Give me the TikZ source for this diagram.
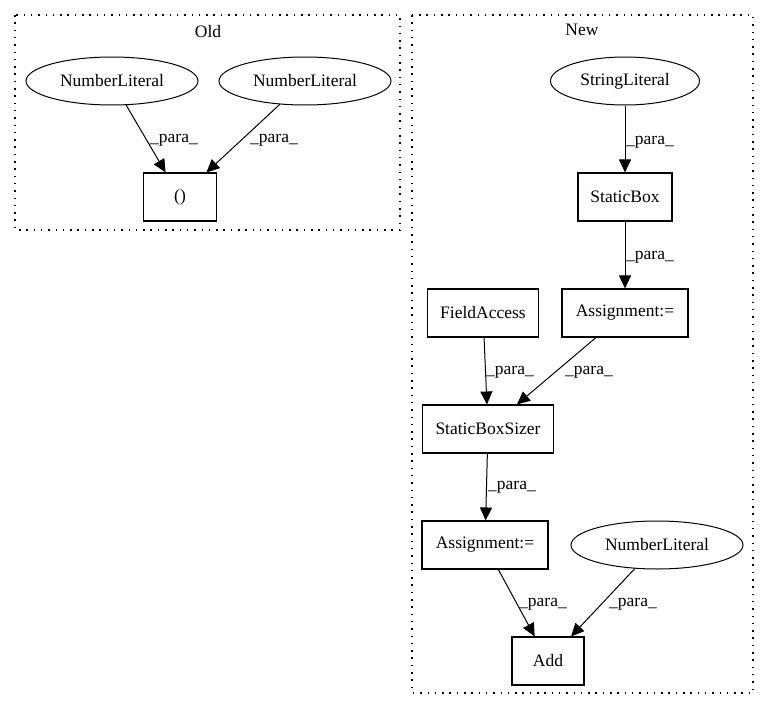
\documentclass[tikz,border=0pt]{standalone}
\usepackage{fontspec}
\setmainfont{Liberation Serif}
\usetikzlibrary{arrows.meta,shapes.geometric}
\begin{document}
\begin{tikzpicture}[x=1pt,y=-1pt,
  every node/.style={font=\fontsize{17.5}{20}\selectfont},
  rectnode/.style={draw,line width=1.1pt,rectangle,inner sep=0pt,minimum height=48pt},
  ellnode/.style={draw,line width=1pt,ellipse,inner sep=0pt,minimum height=48pt},
  cluster/.style={draw,line width=1.3pt,dash pattern=on 1.5pt off 5.8pt},
  para/.style={-{Triangle[length=13pt,width=12pt]},line width=1pt},
  lbl/.style={inner sep=0pt}
]
\useasboundingbox (0,0) rectangle (769,712);
% clusters
\draw[cluster] (15,15) rectangle (400,230);
\node[lbl] (oldlbl) at (208,32) {Old};
\draw[cluster] (412,15) rectangle (753,693);
\node[lbl] (newlbl) at (582,30) {New};
% Old nodes
\node[ellnode,minimum width=172pt] (nl1) at (112,81) {NumberLiteral};
\node[ellnode,minimum width=172pt] (nl2) at (305,81) {NumberLiteral};
\node[rectnode,minimum width=73pt] (paren) at (180,197) {()};
% New nodes
\node[ellnode,minimum width=149pt] (sl) at (625,81) {StringLiteral};
\node[rectnode,minimum width=94pt] (sb) at (625,197) {StaticBox};
\node[rectnode,minimum width=126pt] (as1) at (625,313) {Assignment:=};
\node[rectnode,minimum width=111pt] (fa) at (483,313) {FieldAccess};
\node[rectnode,minimum width=131pt] (sbs) at (488,429) {StaticBoxSizer};
\node[rectnode,minimum width=126pt] (as2) at (485,545) {Assignment:=};
\node[ellnode,minimum width=172pt] (nl3) at (657,545) {NumberLiteral};
\node[rectnode,minimum width=72pt] (add) at (548,661) {Add};
% edges
\draw[para] (nl1) -- (paren);
\draw[para] (nl2) -- (paren);
\draw[para] (sl) -- (sb);
\draw[para] (sb) -- (as1);
\draw[para] (fa) -- (sbs);
\draw[para] (as1) -- (sbs);
\draw[para] (sbs) -- (as2);
\draw[para] (as2) -- (add);
\draw[para] (nl3) -- (add);
% edge labels
\node[lbl] (l1) at (174,140) {\_para\_};
\node[lbl] (l2) at (274,140) {\_para\_};
\node[lbl] (l3) at (650,142) {\_para\_};
\node[lbl] (l4) at (650,257) {\_para\_};
\node[lbl] (l5) at (510,372) {\_para\_};
\node[lbl] (l6) at (589,372) {\_para\_};
\node[lbl] (l7) at (512,487) {\_para\_};
\node[lbl] (l8) at (543,604) {\_para\_};
\node[lbl] (l9) at (633,604) {\_para\_};
\end{tikzpicture}
\end{document}
